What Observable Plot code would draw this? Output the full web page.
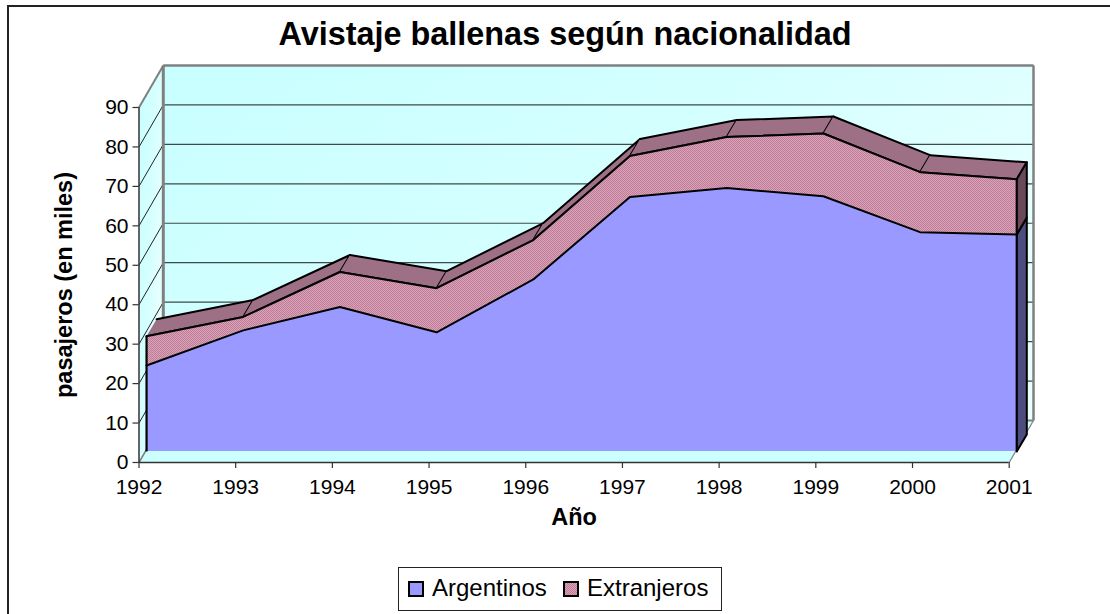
<!DOCTYPE html>
<html lang="es">
<head>
<meta charset="utf-8">
<script src="https://cdn.jsdelivr.net/npm/d3@7"></script>
<script src="https://cdn.jsdelivr.net/npm/@observablehq/plot@0.6"></script>
<style>
  html, body { margin: 0; padding: 0; background: #fff; }
  #chart { position: relative; width: 1110px; height: 614px; overflow: hidden; font-family: "Liberation Sans", Arial, sans-serif; color: #000; }
  #frame { position: absolute; left: 7px; top: 5px; width: 1200px; height: 800px; border: 2px solid #222; box-sizing: border-box; }
  #chart svg { position: absolute; left: 0; top: 0; background: transparent; font-family: "Liberation Sans", Arial, sans-serif; }
  #title { position: absolute; left: 0; width: 1130px; top: 16px; text-align: center; font-size: 32.4px; font-weight: bold; line-height: 36px; }
  #legend { position: absolute; left: 398px; top: 567px; width: 324px; height: 44px; border: 1px solid #222; box-sizing: border-box; background: #fff; }
  #legend .sw { position: absolute; top: 13px; width: 16px; height: 16px; border: 2px solid #000; box-sizing: border-box; }
  #legend .lb { position: absolute; top: 6px; font-size: 24px; line-height: 28px; white-space: nowrap; }
  #legend .sw.ext { background: conic-gradient(#e0a0b8 25%, #b88098 0 50%, #e0a0b8 0 75%, #b88098 0) 0 0 / 2px 2px; }
  #legend .sw.arg { background: #9999ff; }
  g[aria-label="y-axis label"] text, g[aria-label="x-axis label"] text { font-weight: bold; font-size: 23.5px; fill: #000; }
</style>
</head>
<body>
<div id="chart">
  <div id="frame"></div>
  <div id="plot"></div>
  <div id="title">Avistaje ballenas según nacionalidad</div>
  <div id="legend">
    <span class="sw arg" style="left:9px"></span><span class="lb" style="left:33px">Argentinos</span>
    <span class="sw ext" style="left:164px"></span><span class="lb" style="left:188px">Extranjeros</span>
  </div>
</div>
<script>
const years = [1992, 1993, 1994, 1995, 1996, 1997, 1998, 1999, 2000, 2001];
const argentinos = [21.8, 30.7, 36.6, 30.2, 43.6, 64.5, 66.8, 64.7, 55.6, 55.0];
const extranjeros = [7.4, 3.4, 8.9, 11.2, 10.0, 10.4, 12.9, 15.9, 15.2, 14.0];
const yTicks = [0, 10, 20, 30, 40, 50, 60, 70, 80, 90];

// Pseudo-3D depth expressed in data units (years / thousands)
const wallDX = 0.2513, wallDY = 10.65;    // floor depth
const frontDX = 0.078, frontDY = 2.8;     // front face of the series
const topDX = 0.104, topDY = 4.31;        // depth of the series band

const first = years[0], last = years[years.length - 1], yMax = 90;
const totals = argentinos.map((a, i) => a + extranjeros[i]);

const rows = years.map((yr, i) => ({
  x: yr + frontDX,
  base: frontDY,
  arg: argentinos[i] + frontDY,
  tot: totals[i] + frontDY,
  bx: yr + frontDX + topDX,
  barg: argentinos[i] + frontDY + topDY,
  btot: totals[i] + frontDY + topDY
}));
const L = rows[rows.length - 1], F = rows[0];

const poly = (pts, z) => pts.map(([x, y]) => ({x, y, z}));

const backWall = poly([[first + wallDX, wallDY], [last + wallDX, wallDY], [last + wallDX, yMax + wallDY], [first + wallDX, yMax + wallDY]], "back");
const sideWall = poly([[first, 0], [first + wallDX, wallDY], [first + wallDX, yMax + wallDY], [first, yMax]], "side");
const floor = poly([[first, 0], [last, 0], [last + wallDX, wallDY], [first + wallDX, wallDY]], "floor");

const topFaces = rows.slice(0, -1).flatMap((r, i) => {
  const n = rows[i + 1];
  return poly([[r.x, r.tot], [n.x, n.tot], [n.bx, n.btot], [r.bx, r.btot]], i);
});
const sideArg = poly([[L.x, L.base], [L.bx, L.base + topDY], [L.bx, L.barg], [L.x, L.arg]], "a");
const sideExt = poly([[L.x, L.arg], [L.bx, L.barg], [L.bx, L.btot], [L.x, L.tot]], "e");

const defs = () => {
  const s = d3.create("svg:defs");
  s.html(`
    <linearGradient id="wall" gradientUnits="objectBoundingBox" x1="0" y1="0" x2="1" y2="0.6">
      <stop offset="0" stop-color="#c8ffff"/><stop offset="0.5" stop-color="#d4ffff"/><stop offset="1" stop-color="#eaffff"/>
    </linearGradient>
    <pattern id="extFront" patternUnits="userSpaceOnUse" width="2" height="2">
      <rect width="2" height="2" fill="#e0a0b8"/><rect width="1" height="1" fill="#b88098"/><rect x="1" y="1" width="1" height="1" fill="#b88098"/>
    </pattern>
    <pattern id="extTop" patternUnits="userSpaceOnUse" width="2" height="2">
      <rect width="2" height="2" fill="#ad7f94"/><rect width="1" height="1" fill="#8c6175"/><rect x="1" y="1" width="1" height="1" fill="#8c6175"/>
    </pattern>
    <pattern id="extSide" patternUnits="userSpaceOnUse" width="2" height="2">
      <rect width="2" height="2" fill="#7a5566"/><rect width="1" height="1" fill="#5a3f4c"/><rect x="1" y="1" width="1" height="1" fill="#5a3f4c"/>
    </pattern>`);
  return s.node();
};

const grid = yTicks.slice(1);
const chart = Plot.plot({
  width: 1110, height: 614,
  marginLeft: 138.5, marginRight: 101.3, marginTop: 107, marginBottom: 152,
  x: {domain: [first, last], label: null},
  y: {domain: [0, yMax], label: null},
  style: {background: "transparent", color: "#000"},
  marks: [
    defs,
    // walls
    Plot.line(backWall, {x: "x", y: "y", z: "z", fill: "url(#wall)", stroke: null}),
    Plot.line(sideWall, {x: "x", y: "y", z: "z", fill: "url(#wall)", stroke: null}),
    Plot.line(floor, {x: "x", y: "y", z: "z", fill: "#ccffff", stroke: null}),
    // gridlines
    Plot.link(grid, {x1: first + wallDX, x2: last + wallDX, y1: d => d + wallDY, y2: d => d + wallDY, stroke: "#3f4a4a", strokeWidth: 1.2}),
    Plot.link(grid.slice(0, -1), {x1: first, x2: first + wallDX, y1: d => d, y2: d => d + wallDY, stroke: "#222", strokeWidth: 1}),
    Plot.link(yTicks.slice(0, 1), {x1: first + wallDX, x2: last + wallDX, y1: d => d + wallDY, y2: d => d + wallDY, stroke: "#808080", strokeWidth: 2}),
    // wall edges
    Plot.link([0], {x1: first + wallDX, x2: first + wallDX, y1: wallDY, y2: yMax + wallDY, stroke: "#808080", strokeWidth: 3}),
    Plot.link([0], {x1: last + wallDX, x2: last + wallDX, y1: wallDY, y2: yMax + wallDY, stroke: "#808080", strokeWidth: 2.5}),
    Plot.link([0], {x1: first + wallDX, x2: last + wallDX, y1: yMax + wallDY, y2: yMax + wallDY, stroke: "#808080", strokeWidth: 2.5}),
    Plot.link([0], {x1: first, x2: first + wallDX, y1: yMax, y2: yMax + wallDY, stroke: "#808080", strokeWidth: 2}),
    Plot.link([0], {x1: first, x2: first + wallDX, y1: 0, y2: wallDY, stroke: "#808080", strokeWidth: 1.5}),
    Plot.link([0], {x1: last, x2: last + wallDX, y1: 0, y2: wallDY, stroke: "#808080", strokeWidth: 1.2}),
    // band: top faces and right-hand side
    Plot.line(topFaces, {x: "x", y: "y", z: "z", fill: "url(#extTop)", stroke: "#000", strokeWidth: 2, strokeLinejoin: "round"}),
    Plot.line(sideArg, {x: "x", y: "y", z: "z", fill: "#4d4d80", stroke: "#000", strokeWidth: 2}),
    Plot.line(sideExt, {x: "x", y: "y", z: "z", fill: "url(#extSide)", stroke: "#000", strokeWidth: 2}),
    // front faces
    Plot.areaY(rows, {x: "x", y1: "base", y2: "arg", fill: "#9999ff"}),
    Plot.areaY(rows, {x: "x", y1: "arg", y2: "tot", fill: "url(#extFront)"}),
    Plot.line(rows, {x: "x", y: "arg", stroke: "#000", strokeWidth: 2}),
    Plot.line(rows, {x: "x", y: "tot", stroke: "#000", strokeWidth: 2}),
    Plot.link([F, L], {x1: "x", x2: "x", y1: "base", y2: "tot", stroke: "#000", strokeWidth: 2.2}),
    // axes
    Plot.ruleX([first], {y1: 0, y2: yMax, stroke: "#333", strokeWidth: 1.5}),
    Plot.ruleY([0], {x1: first, x2: last, stroke: "#333", strokeWidth: 1.5}),
    Plot.axisY({
      ticks: yTicks, tickSize: 6, tickPadding: 4.5, fontSize: 21, stroke: "#333", strokeWidth: 1.2,
      label: "pasajeros (en miles)", labelAnchor: "center", labelArrow: "none", labelOffset: 84
    }),
    Plot.axisX({
      ticks: years, tickFormat: d => String(d), tickSize: 6, tickPadding: 11, fontSize: 21, stroke: "#333", strokeWidth: 1.2,
      label: "Año", labelAnchor: "center", labelArrow: "none", labelOffset: 62
    })
  ]
});
document.getElementById("plot").appendChild(chart);
</script>
</body>
</html>
